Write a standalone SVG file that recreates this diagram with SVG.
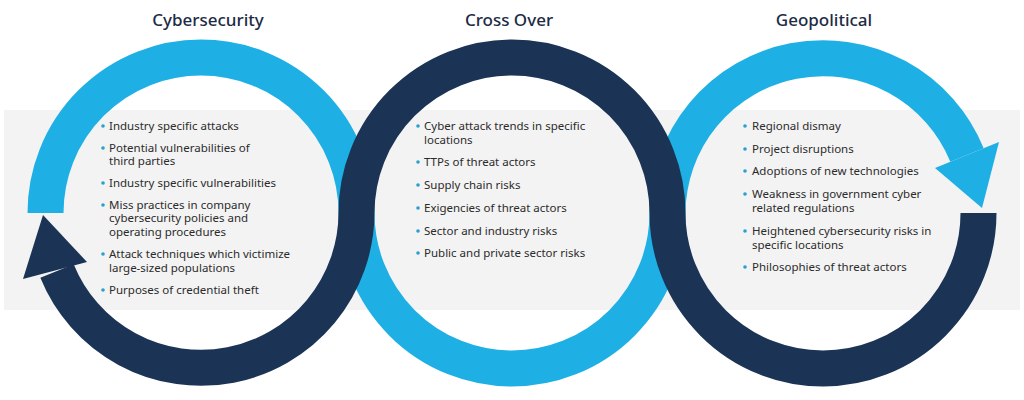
<svg xmlns="http://www.w3.org/2000/svg" width="1024" height="400" viewBox="0 0 1024 400">
<style>
.t{font-family:"Noto Sans","Liberation Sans",sans-serif;font-size:17px;fill:#1d2b45;text-anchor:middle;font-weight:500}
.b{font-family:"Noto Sans","Liberation Sans",sans-serif;font-size:11.5px;fill:#2b2b2b}
.d{fill:#2a9fd0}
</style>
<rect x="4" y="110" width="1016" height="200" fill="#f3f3f3"/>
<g id="connectors">
<path d="M45.5,213 A155.5,155.5 0 0 1 356.5,213 A155.5,155.5 0 0 0 667.5,213 A155.5,155.5 0 0 1 967,155" fill="none" stroke="#1eb0e4" stroke-width="36"/>
<polygon points="999,142 935,168 982,208" fill="#1eb0e4"/>
<path d="M978.5,213 A155.5,155.5 0 0 1 667.5,213 A155.5,155.5 0 0 0 356.5,213 A155.5,155.5 0 0 1 57,271" fill="none" stroke="#1b3456" stroke-width="36"/>
<polygon points="23,279 87,262 43,215" fill="#1b3456"/>
</g>
<g id="cybersecurity">
<text class="t" x="208" y="26">Cybersecurity</text>
<g class="b">
<circle class="d" cx="103" cy="126" r="1.8"/><text x="109" y="130">Industry specific attacks</text>
<circle class="d" cx="103" cy="148" r="1.8"/><text x="109" y="152">Potential vulnerabilities of</text><text x="109" y="165">third parties</text>
<circle class="d" cx="103" cy="183" r="1.8"/><text x="109" y="187">Industry specific vulnerabilities</text>
<circle class="d" cx="103" cy="205" r="1.8"/><text x="109" y="209">Miss practices in company</text><text x="109" y="222">cybersecurity policies and</text><text x="109" y="236">operating procedures</text>
<circle class="d" cx="103" cy="254" r="1.8"/><text x="109" y="258">Attack techniques which victimize</text><text x="109" y="272">large-sized populations</text>
<circle class="d" cx="103" cy="290" r="1.8"/><text x="109" y="294">Purposes of credential theft</text>
</g>
</g>
<g id="crossover">
<text class="t" x="509" y="26">Cross Over</text>
<g class="b">
<circle class="d" cx="418" cy="126" r="1.8"/><text x="424" y="130">Cyber attack trends in specific</text><text x="424" y="144">locations</text>
<circle class="d" cx="418" cy="162" r="1.8"/><text x="424" y="166">TTPs of threat actors</text>
<circle class="d" cx="418" cy="185" r="1.8"/><text x="424" y="189">Supply chain risks</text>
<circle class="d" cx="418" cy="208" r="1.8"/><text x="424" y="212">Exigencies of threat actors</text>
<circle class="d" cx="418" cy="231" r="1.8"/><text x="424" y="235">Sector and industry risks</text>
<circle class="d" cx="418" cy="253" r="1.8"/><text x="424" y="257">Public and private sector risks</text>
</g>
</g>
<g id="geopolitical">
<text class="t" x="824" y="26">Geopolitical</text>
<g class="b">
<circle class="d" cx="745" cy="126" r="1.8"/><text x="752" y="130">Regional dismay</text>
<circle class="d" cx="745" cy="149" r="1.8"/><text x="752" y="153">Project disruptions</text>
<circle class="d" cx="745" cy="171" r="1.8"/><text x="752" y="175">Adoptions of new technologies</text>
<circle class="d" cx="745" cy="194" r="1.8"/><text x="752" y="198">Weakness in government cyber</text><text x="752" y="212">related regulations</text>
<circle class="d" cx="745" cy="231" r="1.8"/><text x="752" y="235">Heightened cybersecurity risks in</text><text x="752" y="249">specific locations</text>
<circle class="d" cx="745" cy="267" r="1.8"/><text x="752" y="271">Philosophies of threat actors</text>
</g>
</g>
</svg>
